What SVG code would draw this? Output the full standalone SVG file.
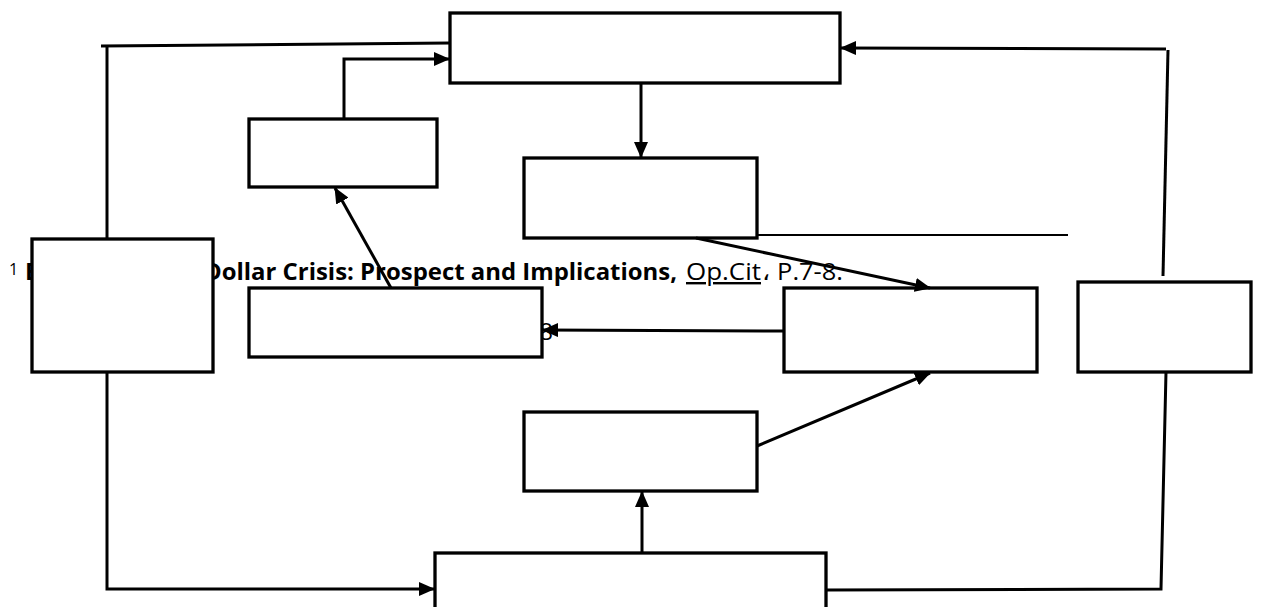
<svg xmlns="http://www.w3.org/2000/svg" width="1263" height="607" viewBox="0 0 1263 607">
<style>
.box{fill:#fff;stroke:#000;stroke-width:3.3}
.ln{fill:none;stroke:#000;stroke-width:3}
.thin{fill:none;stroke:#000;stroke-width:2}
.ft{font-family:"Open Sans","Liberation Sans",sans-serif;fill:#000}
</style>
<defs>
<marker id="ah" markerUnits="userSpaceOnUse" markerWidth="16" markerHeight="14" refX="15" refY="7" orient="auto">
<path d="M0,0 L16,7 L0,14 Z" fill="#000"/>
</marker>
</defs>
<g id="footnote">
<text class="ft" x="9" y="275" font-size="16">1</text>
<text class="ft" x="25" y="280" font-size="24" font-weight="bold">B</text>
<text class="ft" x="204" y="280" font-size="24" font-weight="bold" textLength="473" lengthAdjust="spacingAndGlyphs">Dollar Crisis: Prospect and Implications,</text>
<text class="ft" x="686" y="280" font-size="24" text-decoration="underline" textLength="75" lengthAdjust="spacingAndGlyphs">Op.Cit</text>
<text class="ft" x="762" y="280" font-size="24" textLength="81" lengthAdjust="spacingAndGlyphs">، P.7-8.</text>
<text class="ft" x="553" y="340" font-size="24" text-anchor="end">8</text>
</g>
<g id="node-top"><rect class="box" x="450" y="13" width="390" height="70"/></g>
<g id="node-small"><rect class="box" x="249" y="119" width="188" height="68"/></g>
<g id="node-mid-top"><rect class="box" x="524" y="158" width="233" height="80"/></g>
<g id="node-left"><rect class="box" x="32" y="239" width="181" height="133"/></g>
<g id="node-mid-left"><rect class="box" x="249" y="288" width="293" height="69"/></g>
<g id="node-mid-right"><rect class="box" x="784" y="288" width="253" height="84"/></g>
<g id="node-right"><rect class="box" x="1078" y="282" width="173" height="90"/></g>
<g id="node-lower-mid"><rect class="box" x="524" y="412" width="233" height="79"/></g>
<g id="node-bottom"><rect class="box" x="435" y="553" width="391" height="70"/></g>
<g id="connectors">
<line class="ln" x1="101" y1="46" x2="450" y2="43"/>
<line class="ln" x1="107" y1="45" x2="107" y2="239"/>
<polyline class="ln" points="344,119 344,59 449,59" marker-end="url(#ah)"/>
<line class="ln" x1="641" y1="83" x2="641" y2="157" marker-end="url(#ah)"/>
<line class="ln" x1="696" y1="238" x2="930" y2="288" marker-end="url(#ah)"/>
<line class="thin" x1="757" y1="235" x2="1068" y2="235"/>
<line class="ln" x1="784" y1="331" x2="543" y2="330" marker-end="url(#ah)"/>
<line class="ln" x1="391" y1="288" x2="335" y2="188" marker-end="url(#ah)"/>
<line class="ln" x1="757" y1="446" x2="930" y2="373" marker-end="url(#ah)"/>
<line class="ln" x1="642" y1="553" x2="642" y2="492" marker-end="url(#ah)"/>
<polyline class="ln" points="107,372 107,589 434,589" marker-end="url(#ah)"/>
<polyline class="ln" points="826,590 1161,589 1166,372"/>
<line class="ln" x1="1163" y1="276" x2="1168" y2="50"/>
<line class="ln" x1="1166" y1="49" x2="841" y2="48" marker-end="url(#ah)"/>
</g>
</svg>
